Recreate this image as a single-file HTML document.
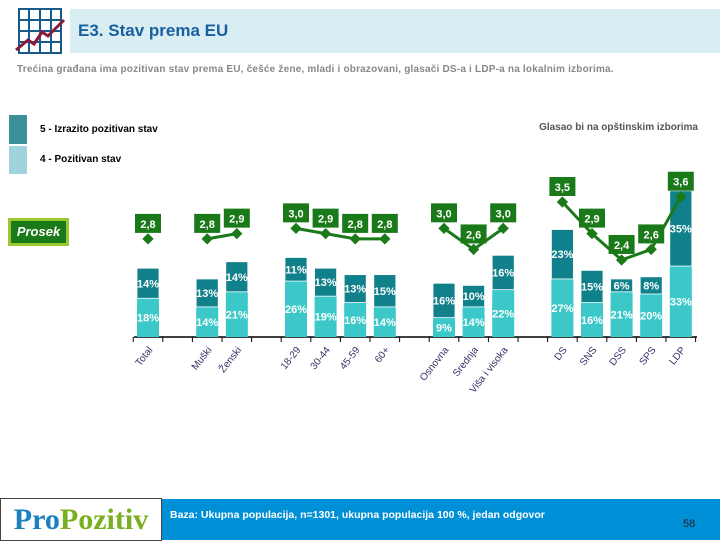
<!DOCTYPE html>
<html><head><meta charset="utf-8"><style>
body{margin:0;width:720px;height:540px;overflow:hidden;background:#fff;font-family:"Liberation Sans",sans-serif;position:relative}
.abs{position:absolute}
</style></head><body>
<div class="abs" style="left:70px;top:9px;width:650px;height:44px;background:#d8eef2"></div>
<svg class="abs" style="left:14px;top:8px" width="56" height="46" viewBox="0 0 56 46">
<rect x="5" y="1" width="42" height="44" fill="#fff" stroke="#1a5a8a" stroke-width="2"/>
<g stroke="#1a5a8a" stroke-width="2"><line x1="15" y1="1" x2="15" y2="45"/><line x1="26" y1="1" x2="26" y2="45"/><line x1="37" y1="1" x2="37" y2="45"/><line x1="5" y1="12" x2="47" y2="12"/><line x1="5" y1="23" x2="47" y2="23"/><line x1="5" y1="34" x2="47" y2="34"/></g>
<polyline points="2,42 14,32 20,36 28,24 34,28 50,12" fill="none" stroke="#8a1a3a" stroke-width="3"/></svg>
<div class="abs" style="left:78px;top:21px;font-size:17px;font-weight:bold;color:#1a5fa0">E3. Stav prema EU</div>
<div class="abs" style="left:17px;top:64px;font-size:10px;font-weight:bold;color:#888;letter-spacing:0.2px">Trećina građana ima pozitivan stav prema EU, češće žene, mladi i obrazovani, glasači DS-a i LDP-a na lokalnim izborima.</div>
<div class="abs" style="left:9px;top:115px;width:18px;height:29px;background:#3a9098"></div>
<div class="abs" style="left:40px;top:124px;font-size:10px;font-weight:bold;color:#000">5 - Izrazito pozitivan stav</div>
<div class="abs" style="left:9px;top:146px;width:18px;height:28px;background:#a0d4dc"></div>
<div class="abs" style="left:40px;top:154px;font-size:10px;font-weight:bold;color:#000">4 - Pozitivan stav</div>
<div class="abs" style="right:22px;top:122px;font-size:10px;font-weight:bold;color:#555">Glasao bi na opštinskim izborima</div>
<div class="abs" style="left:8px;top:218px;width:55px;height:22px;background:#1a7a1a;border:3px solid #9ac830;color:#fff;font-size:13px;font-style:italic;font-weight:bold;text-align:center;line-height:22px">Prosek</div>
<svg id="chart" class="abs" style="left:0;top:0" width="720" height="400"></svg>
<div class="abs" style="left:0;top:498px;width:160px;height:41px;border:1px solid #444;background:#fff;font-size:30px;font-weight:bold;font-family:'Liberation Serif',serif;line-height:41px;text-align:center"><span style="color:#1a80c0">Pro</span><span style="color:#7ab020">Pozitiv</span></div>
<div class="abs" style="left:162px;top:499px;width:558px;height:41px;background:#0090d8"></div>
<div class="abs" style="left:170px;top:509px;font-size:10.5px;font-weight:bold;color:#fff">Baza: Ukupna populacija, n=1301, ukupna populacija 100 %, jedan odgovor</div>
<div class="abs" style="left:683px;top:518px;font-size:11px;color:#222">58</div>
<script>
const categories=["Total","Muški","Ženski","18-29","30-44","45-59","60+","Osnovna","Srednja","Viša i visoka","DS","SNS","DSS","SPS","LDP"];
const slots=[0,2,3,5,6,7,8,10,11,12,14,15,16,17,18];
const pos4=[18,14,21,26,19,16,14,9,14,22,27,16,21,20,33];
const pos5=[14,13,14,11,13,13,15,16,10,16,23,15,6,8,35];
const means=[2.8,2.8,2.9,3.0,2.9,2.8,2.8,3.0,2.6,3.0,3.5,2.9,2.4,2.6,3.6];
const meanLabels=["2,8","2,8","2,9","3,0","2,9","2,8","2,8","3,0","2,6","3,0","3,5","2,9","2,4","2,6","3,6"];
const lineGroups=[[0],[1,2],[3,4,5,6],[7,8,9],[10,11,12,13,14]];
const NS="http://www.w3.org/2000/svg";
const svg=document.getElementById('chart');
const base=337;
const xS=i=>148+slots[i]*29.6;
const hS=v=>v*2.15;
const yM=v=>202+(3.5-v)*52.7;
function mk(t,a){const e=document.createElementNS(NS,t);for(const k in a)e.setAttribute(k,a[k]);svg.appendChild(e);return e;}
const ax=mk('line',{x1:134,y1:base,x2:697,y2:base,stroke:'#000','stroke-width':1.5});


for(let s=0;s<=19;s++){const t=mk('line',{x1:133.2+s*29.6,y1:base,x2:133.2+s*29.6,y2:base+5,stroke:'#000'});

}
categories.forEach((c,i)=>{
 const x=xS(i),w=22;
 const h4=hS(pos4[i]),h5=hS(pos5[i]);
 const r4=mk('rect',{x:x-w/2,y:base-h4,width:w,height:h4,fill:'#3cc8c8'});
 
 
 const r5=mk('rect',{x:x-w/2,y:base-h4-h5,width:w,height:h5,fill:'#10808a',stroke:'#fff','stroke-width':0.8});
 
 
 const t4=mk('text',{x:x,y:base-h4/2+4,'text-anchor':'middle','font-size':11,'font-weight':'bold',fill:'#fff'});t4.textContent=pos4[i]+'%';
 
 
 const t5=mk('text',{x:x,y:base-h4-h5/2+4,'text-anchor':'middle','font-size':11,'font-weight':'bold',fill:'#fff'});t5.textContent=pos5[i]+'%';
 
 
 const tl=mk('text',{x:x+5,y:350,'text-anchor':'end','font-size':10,fill:'#333366',transform:`rotate(-52 ${x+5} 350)`});tl.textContent=c;
 
 
});
lineGroups.forEach((g,gi)=>{
 if(g.length>1){const p=mk('polyline',{points:g.map(i=>xS(i)+','+yM(means[i])).join(' '),fill:'none',stroke:'#1a7a1a','stroke-width':3});
 
 }
});
means.forEach((m,i)=>{
 const x=xS(i),y=yM(m);
 const d=mk('rect',{x:x-4,y:y-4,width:8,height:8,fill:'#1a7a1a',transform:`rotate(45 ${x} ${y})`});
 
 
 const b=mk('rect',{x:x-13,y:y-25,width:26,height:19,fill:'#1a7a1a'});
 
 
 const t=mk('text',{x:x,y:y-11,'text-anchor':'middle','font-size':11,'font-weight':'bold',fill:'#fff'});t.textContent=meanLabels[i];
 
 
});
</script>
</body></html>
